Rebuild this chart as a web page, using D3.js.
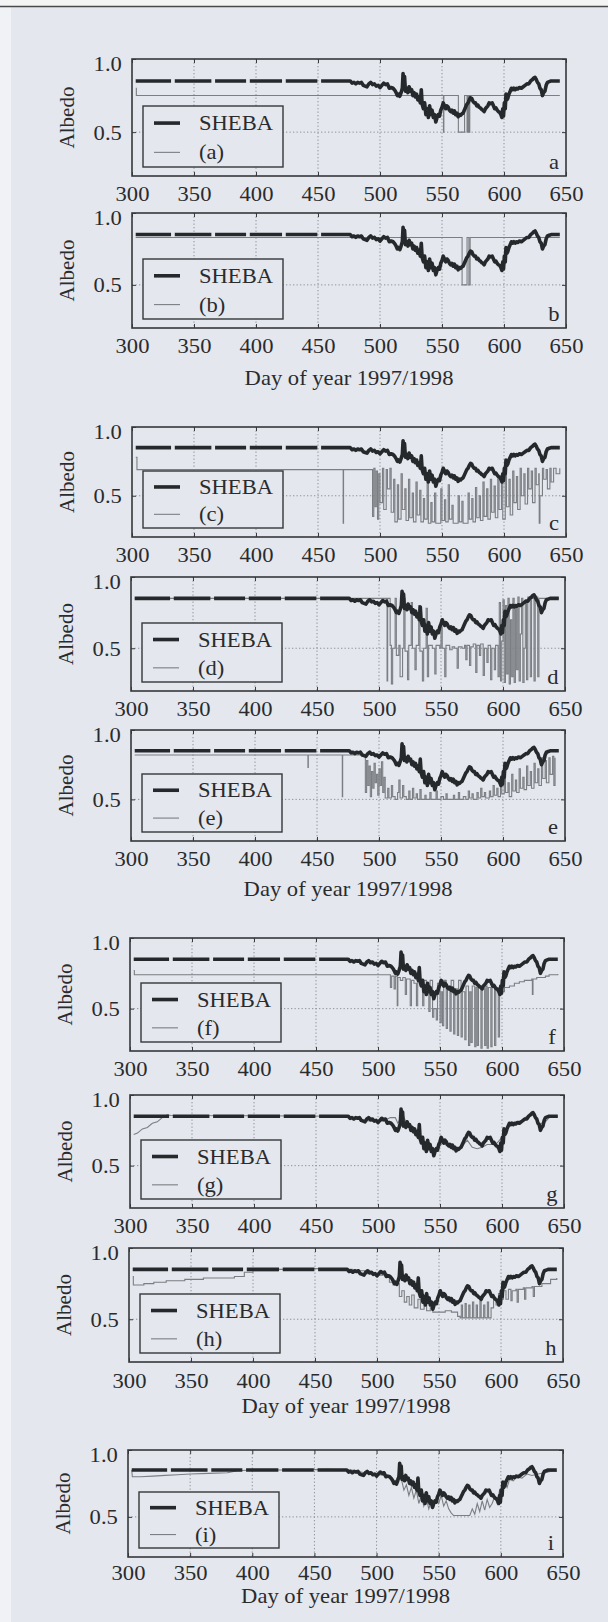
<!DOCTYPE html>
<html>
<head>
<meta charset="utf-8">
<script src="https://cdn.jsdelivr.net/npm/d3@7"></script>
<style>
  body { margin: 0; background: #e4e7ee; }
  svg { display: block; }
  text { font-family: "Liberation Serif", "Times New Roman", serif; fill: #2a2b2d; }
</style>
</head>
<body>
<div id="chart"></div>
<script>
// ---- data (day of year, albedo); null = gap in record ----
const sheba = [
  [303,0.85],[331.5,0.85],null,[334.5,0.85],[364,0.85],null,[367,0.85],[392,0.85],null,
  [395,0.85],[421,0.85],null,[424,0.85],[449.5,0.85],null,[452.5,0.85],[476,0.85],
  [477.5,0.835],[479,0.84],[480.5,0.83],[482,0.84],[483.5,0.835],[485,0.84],[486.5,0.82],[488,0.815],
  [489.5,0.81],[491,0.83],[492.5,0.84],[494,0.825],[495.5,0.83],[497,0.815],[498.5,0.82],[500,0.805],
  [501.5,0.82],[503,0.835],[504.5,0.825],[506,0.83],[507.5,0.80],[509,0.805],[510.5,0.80],[512,0.785],
  [513,0.77],[514,0.75],[515,0.76],[516,0.745],[517,0.77],[518,0.80],[518.6,0.90],[519.2,0.84],
  [519.8,0.88],[520.5,0.78],[521.5,0.80],[522.5,0.77],[523.5,0.81],[524.5,0.78],[525.5,0.79],
  [526.5,0.75],[527.5,0.77],[528.5,0.74],[529.5,0.76],[530.5,0.72],[531.5,0.74],[532.5,0.70],
  [533.3,0.79],[534,0.69],[535,0.66],[536,0.70],[537,0.62],[538,0.66],[539,0.60],[540,0.68],[541,0.62],
  [542,0.65],[543,0.60],[544,0.62],[545,0.57],[546,0.60],[547,0.62],[548,0.61],[549,0.65],[550,0.67],
  [551,0.70],[552,0.68],[553,0.66],[554,0.68],[555,0.67],[556,0.65],[557,0.64],[558,0.65],[559,0.63],
  [560,0.645],[561,0.62],[562,0.63],[563,0.605],[564,0.62],[565,0.615],[566,0.625],[567,0.63],
  [568,0.65],[569,0.67],[570,0.69],[571,0.70],[572,0.72],[573,0.735],[574,0.73],[575,0.71],[576,0.70],
  [577,0.70],[578,0.68],[579,0.685],[580,0.67],[581,0.665],[582,0.655],[583,0.65],[584,0.64],[585,0.66],
  [586,0.67],[587,0.68],[588,0.70],[589,0.695],[590.5,0.70],[591.5,0.68],[592.5,0.66],[593.5,0.665],
  [594.5,0.65],[595.5,0.64],[596.5,0.635],[597.5,0.62],[598.3,0.60],[599,0.66],[599.6,0.61],
  [600.3,0.70],[601,0.66],[601.6,0.76],[602.3,0.72],[603,0.73],[604,0.76],[605,0.78],[606,0.80],
  [607,0.79],[608,0.80],[609,0.79],[610,0.80],[611,0.795],[612.5,0.805],[614,0.80],[615.5,0.81],
  [617,0.82],[618.5,0.83],[620,0.83],[621.5,0.85],[623,0.86],[624,0.87],[625,0.875],[626,0.86],
  [627,0.84],[628,0.83],[629,0.80],[630,0.79],[631,0.75],[632,0.77],[633,0.78],[634,0.82],[635,0.84],
  [636.5,0.845],[638,0.85],[645,0.85]
];

const modelA = [
  [303,0.80],[303.5,0.75],[551,0.75],[551.2,0.5],[551.5,0.75],[563,0.75],[563.2,0.5],[568,0.5],
  [568.2,0.75],[570,0.75],[570.2,0.5],[570.6,0.75],[571,0.5],[571.4,0.75],[572,0.5],[572.4,0.75],[645,0.75]
];
const modelB = [
  [303,0.83],[566,0.83],[566.2,0.5],[570,0.5],[570.2,0.83],[571.5,0.83],[571.7,0.5],[572.5,0.5],[572.7,0.83],[645,0.83]
];
const modelC = [
  [303,0.78],[304,0.69],[470,0.69],[470.3,0.30],[470.6,0.69],[493,0.69],
  [494,0.35],[495,0.70],[496,0.42],[497,0.68],[498,0.33],[499,0.66],[500,0.45],[502,0.70],[503,0.40],
  [505,0.69],[506,0.55],[508,0.70],[509,0.38],[511,0.62],[512,0.31],[514,0.58],[515,0.33],[517,0.66],
  [518,0.40],[520,0.55],[521,0.32],[523,0.62],[524,0.34],[526,0.52],[527,0.31],[529,0.60],[530,0.36],
  [532,0.54],[533,0.31],[535,0.48],[536,0.33],[538,0.62],[539,0.30],[541,0.45],[542,0.31],[544,0.52],
  [545,0.30],[548,0.30],[549,0.55],[550,0.32],[552,0.47],[553,0.31],[555,0.58],[556,0.33],[558,0.43],
  [559,0.30],[562,0.30],[563,0.50],[564,0.31],[566,0.46],[567,0.30],[570,0.30],[571,0.52],[572,0.33],
  [574,0.48],[575,0.31],[577,0.56],[578,0.34],[580,0.50],[581,0.32],[583,0.60],[584,0.35],[586,0.55],
  [587,0.33],[589,0.62],[590,0.38],[592,0.57],[593,0.34],[595,0.64],[596,0.40],[598,0.60],[599,0.33],
  [601,0.66],[602,0.42],[604,0.62],[605,0.36],[607,0.68],[608,0.45],[610,0.64],[611,0.40],[613,0.70],
  [614,0.50],[616,0.66],[617,0.44],[619,0.70],[620,0.55],[622,0.68],[623,0.45],[625,0.70],[626,0.58],
  [628,0.66],[628.4,0.30],[629,0.50],[631,0.70],[632,0.62],[634,0.69],[635,0.55],[637,0.70],[638,0.60],
  [640,0.70],[642,0.66],[645,0.70]
];
const modelD = [
  [303,0.85],[506,0.85],[506.5,0.27],[507,0.85],[509,0.52],[510,0.25],[511,0.50],[513,0.85],[514,0.45],
  [516,0.52],[517,0.30],[519,0.50],[520,0.85],[521,0.48],[523,0.28],[524,0.52],[526,0.82],[527,0.50],
  [529,0.35],[530,0.52],[532,0.80],[533,0.48],[535,0.27],[536,0.50],[538,0.78],[539,0.30],[540,0.52],
  [543,0.50],[545,0.32],[546,0.52],[549,0.50],[550,0.65],[551,0.50],[553,0.30],[554,0.52],[557,0.49],
  [559,0.51],[561,0.50],[563,0.36],[564,0.51],[567,0.50],[569,0.52],[570,0.42],[571,0.52],[573,0.38],
  [574,0.51],[576,0.53],[578,0.33],[579,0.52],[581,0.45],[582,0.53],[584,0.31],[585,0.50],[587,0.40],
  [588,0.52],[590,0.28],[591,0.50],[593,0.35],[594,0.52],[596,0.30],[597,0.82],[598,0.27],[599,0.55],
  [600,0.84],[601,0.26],[602,0.80],[603,0.32],[604,0.85],[605,0.25],[606,0.70],[607,0.30],[608,0.85],
  [609,0.26],[610,0.78],[611,0.35],[612,0.86],[613,0.27],[614,0.60],[615,0.85],[616,0.26],[617,0.50],
  [618,0.84],[619,0.28],[620,0.86],[622,0.30],[623,0.85],[625,0.27],[626,0.86],[628,0.30],[629,0.85],[645,0.85]
];
const modelE = [
  [303,0.82],[442.5,0.82],[442.7,0.73],[443,0.82],[470.2,0.82],[470.4,0.52],[470.7,0.82],[488,0.82],
  [489,0.55],[490,0.78],[491,0.60],[492,0.74],[493,0.52],[494,0.70],[495,0.58],[496,0.76],[497,0.62],
  [498,0.68],[499,0.53],[500,0.72],[501,0.60],[502,0.77],[503,0.55],[504,0.66],[505,0.51],[507,0.58],
  [508,0.51],[510,0.60],[511,0.52],[513,0.50],[515,0.55],[516,0.64],[517,0.51],[519,0.60],[520,0.52],
  [522,0.50],[524,0.56],[525,0.50],[527,0.58],[528,0.51],[530,0.54],[531,0.50],[533,0.57],[534,0.50],
  [537,0.53],[538,0.50],[541,0.55],[542,0.50],[545,0.50],[546,0.56],[547,0.50],[550,0.52],[552,0.50],
  [554,0.54],[555,0.50],[558,0.50],[560,0.53],[561,0.50],[564,0.55],[565,0.50],[568,0.52],[570,0.50],
  [572,0.56],[573,0.51],[575,0.54],[576,0.50],[579,0.55],[580,0.51],[582,0.58],[583,0.52],[585,0.55],
  [586,0.51],[589,0.56],[590,0.52],[592,0.60],[593,0.53],[595,0.58],[596,0.52],[598,0.62],[599,0.54],
  [601,0.66],[602,0.55],[604,0.62],[605,0.52],[607,0.68],[608,0.56],[610,0.64],[611,0.55],[613,0.72],
  [614,0.58],[616,0.66],[617,0.57],[619,0.74],[620,0.60],[622,0.70],[623,0.58],[625,0.76],[626,0.62],
  [628,0.72],[629,0.60],[631,0.80],[632,0.65],[634,0.78],[635,0.62],[637,0.80],[638,0.68],[640,0.81],
  [641,0.60],[642,0.80]
];
const modelF = [
  [303,0.77],[303.5,0.74],[509,0.74],[510,0.65],[511,0.73],[513,0.64],[514,0.73],[515.5,0.52],[516,0.72],
  [518,0.70],[520,0.72],[522,0.60],[523,0.71],[526,0.52],[527,0.70],[529,0.68],[531,0.52],[532,0.70],
  [534,0.66],[536,0.52],[537,0.70],[539,0.64],[541,0.48],[542,0.70],[544,0.44],[545,0.50],[547,0.42],
  [548,0.68],[550,0.40],[551,0.62],[552,0.38],[553,0.70],[555,0.36],[556,0.66],[558,0.34],[559,0.70],
  [561,0.32],[562,0.64],[564,0.31],[565,0.70],[567,0.30],[568,0.62],[570,0.28],[571,0.66],[573,0.24],
  [574,0.62],[575,0.26],[576,0.66],[578,0.23],[579,0.65],[580,0.24],[581,0.66],[583,0.22],[584,0.64],
  [586,0.24],[587,0.66],[588,0.22],[589,0.65],[591,0.23],[592,0.66],[594,0.24],[595,0.65],[597,0.30],
  [598,0.64],[600,0.62],[602,0.65],[606,0.66],[610,0.68],[614,0.69],[618,0.70],[624,0.71],[624.5,0.60],
  [625,0.71],[628,0.72],[632,0.72],[635,0.73],[638,0.74],[645,0.745]
];
const modelG = [
  [303,0.72],[306,0.73],[310,0.76],[314,0.77],[318,0.80],[322,0.81],[326,0.84],[330,0.86],[333,0.855],
  [476,0.85],[480,0.84],[490,0.82],[500,0.81],[505,0.82],[510,0.84],[514,0.84],[516,0.80],[520,0.86],
  [524,0.78],[528,0.74],[532,0.70],[536,0.68],[540,0.64],[544,0.60],[548,0.62],[552,0.66],[556,0.64],
  [560,0.62],[564,0.62],[568,0.64],[572,0.68],[576,0.63],[580,0.62],[584,0.63],[588,0.65],[592,0.65],
  [596,0.66],[600,0.70],[604,0.76],[608,0.80],[612,0.81],[616,0.82],[620,0.85],[625,0.86],[630,0.80],
  [634,0.80],[638,0.84],[645,0.85]
];
const modelH = [
  [303,0.80],[303.5,0.74],[312,0.75],[320,0.76],[330,0.77],[345,0.78],[360,0.79],[375,0.79],[385,0.80],
  [393,0.83],[400,0.84],[420,0.85],[445,0.855],[470,0.85],[480,0.84],[490,0.82],[500,0.81],[505,0.82],
  [508,0.81],[510,0.76],[513,0.74],[516,0.75],[518,0.66],[520,0.70],[522,0.62],[524,0.66],[526,0.60],
  [528,0.67],[530,0.58],[533,0.64],[535,0.57],[538,0.62],[540,0.56],[543,0.58],[545,0.55],[550,0.55],
  [555,0.56],[560,0.55],[565,0.52],[567,0.51],[568,0.60],[569,0.51],[571,0.61],[572,0.51],[574,0.60],
  [575,0.51],[577,0.62],[578,0.51],[580,0.60],[581,0.51],[583,0.63],[584,0.51],[586,0.60],[587,0.51],
  [589,0.62],[590,0.51],[592,0.58],[594,0.64],[596,0.60],[598,0.68],[600,0.64],[602,0.70],[604,0.64],
  [606,0.71],[608,0.63],[609,0.70],[612,0.71],[613,0.62],[614,0.71],[618,0.72],[619,0.64],[620,0.72],
  [625,0.73],[626,0.66],[627,0.73],[633,0.75],[640,0.78],[645,0.79]
];
const modelI = [
  [303,0.85],[303.5,0.80],[310,0.80],[320,0.805],[330,0.81],[340,0.815],[350,0.82],[365,0.825],
  [380,0.83],[388,0.845],[400,0.85],[430,0.85],[460,0.855],[480,0.85],[490,0.83],[500,0.82],[510,0.80],
  [515,0.76],[518,0.82],[520,0.78],[522,0.70],[524,0.74],[526,0.66],[528,0.72],[530,0.64],[532,0.70],
  [534,0.60],[536,0.66],[538,0.58],[540,0.64],[542,0.56],[544,0.62],[546,0.58],[548,0.64],[550,0.60],
  [552,0.66],[554,0.58],[556,0.62],[558,0.56],[560,0.53],[562,0.51],[570,0.51],[575,0.51],[577,0.56],
  [579,0.52],[581,0.60],[583,0.54],[585,0.62],[587,0.55],[589,0.63],[591,0.57],[593,0.60],[595,0.65],
  [597,0.60],[599,0.70],[601,0.66],[603,0.76],[605,0.72],[607,0.78],[610,0.77],[613,0.80],[617,0.79],
  [621,0.82],[625,0.81],[630,0.82],[635,0.83],[640,0.84],[645,0.84]
];

const models = [modelA, modelB, modelC, modelD, modelE, modelF, modelG, modelH, modelI];
const panelLetters = ["a", "b", "c", "d", "e", "f", "g", "h", "i"];
const legendLabels = ["(a)", "(b)", "(c)", "(d)", "(e)", "(f)", "(g)", "(h)", "(i)"];
const xTicks = [300, 350, 400, 450, 500, 550, 600, 650];
const yTicks = [0.5, 1.0];
const xTitle = "Day of year 1997/1998";
const yTitle = "Albedo";
const seriesName = "SHEBA";

// ---- layout of the scanned page (pixels) ----
const W = 608, H = 1622;
const frames = [
  {top: 59,   bottom: 176,  left: 132, right: 566, tick: 25, xlabel: null, step: true},
  {top: 213,  bottom: 328,  left: 132, right: 566, tick: 25, xlabel: 385,  step: true},
  {top: 427,  bottom: 537,  left: 132, right: 566, tick: 25, xlabel: null, step: true},
  {top: 577,  bottom: 691,  left: 131, right: 565, tick: 25, xlabel: null, step: true},
  {top: 730,  bottom: 841,  left: 131, right: 565, tick: 25, xlabel: 896,  step: true},
  {top: 938,  bottom: 1051, left: 130, right: 564, tick: 25, xlabel: null, step: true},
  {top: 1095, bottom: 1208, left: 130, right: 564, tick: 25, xlabel: null, step: false},
  {top: 1248, bottom: 1362, left: 129, right: 563, tick: 26, xlabel: 1413, step: true},
  {top: 1450, bottom: 1557, left: 128, right: 563, tick: 23, xlabel: 1603, step: false}
];
const stretch = "scale(1.13,1)";

const svg = d3.select("#chart").append("svg")
    .attr("width", W)
    .attr("height", H)
    .attr("viewBox", [0, 0, W, H]);

// page background, scan edges
svg.append("rect").attr("width", W).attr("height", H).attr("fill", "#e4e7ee");
svg.append("rect").attr("width", 11).attr("height", H).attr("fill", "#f1f2f5");
svg.append("rect").attr("width", W).attr("height", 6).attr("fill", "#f4f4f4");
svg.append("line").attr("x1", 0).attr("x2", W).attr("y1", 6.5).attr("y2", 6.5)
    .attr("stroke", "#4a4a4a").attr("stroke-width", 1.6);

frames.forEach((f, i) => {
  const x = d3.scaleLinear().domain([300, 650]).range([f.left, f.right]);
  const y = d3.scaleLinear().domain([0.2, 1.0]).range([f.bottom, f.top]);
  const g = svg.append("g");
  const ph = f.bottom - f.top;

  g.append("clipPath").attr("id", "clip" + i)
    .append("rect").attr("x", f.left).attr("y", f.top)
    .attr("width", f.right - f.left).attr("height", ph);

  // dotted grid
  g.append("g").selectAll("line").data(xTicks.slice(1, -1)).join("line")
      .attr("x1", d => x(d)).attr("x2", d => x(d))
      .attr("y1", f.top).attr("y2", f.bottom)
      .attr("stroke", "#85888d").attr("stroke-width", 0.9).attr("stroke-dasharray", "1.3,2.2");
  g.append("line")
      .attr("x1", f.left).attr("x2", f.right).attr("y1", y(0.5)).attr("y2", y(0.5))
      .attr("stroke", "#85888d").attr("stroke-width", 0.9).attr("stroke-dasharray", "1.3,2.2");

  // series
  const line = d3.line().defined(d => d !== null).x(d => x(d[0])).y(d => y(d[1]));
  const modelLine = d3.line().x(d => x(d[0])).y(d => y(d[1]))
      .curve(f.step ? d3.curveStepAfter : d3.curveLinear);
  const plot = g.append("g").attr("clip-path", `url(#clip${i})`);
  plot.append("path").datum(models[i]).attr("d", modelLine)
      .attr("fill", "none").attr("stroke", "#7b7e82").attr("stroke-width", 1.1);
  plot.append("path").datum(sheba).attr("d", line)
      .attr("fill", "none").attr("stroke", "#25292b").attr("stroke-width", 3.6)
      .attr("stroke-linejoin", "round");

  // axes: inward ticks on all sides
  const xb = g.append("g").attr("transform", `translate(0,${f.bottom})`)
      .call(d3.axisBottom(x).tickValues(xTicks).tickSize(-4).tickPadding(0).tickFormat(d3.format("d")));
  xb.select(".domain").remove();
  xb.selectAll("line").attr("stroke", "#3a3c3e");
  xb.selectAll("text").attr("y", f.tick).attr("dy", 0).attr("transform", stretch)
      .style("font-size", "20px").attr("fill", "#2a2b2d");

  const xt = g.append("g").attr("transform", `translate(0,${f.top})`)
      .call(d3.axisTop(x).tickValues(xTicks).tickSize(-4).tickFormat(""));
  xt.select(".domain").remove();
  xt.selectAll("line").attr("stroke", "#3a3c3e");

  const yl = g.append("g").attr("transform", `translate(${f.left},0)`)
      .call(d3.axisLeft(y).tickValues(yTicks).tickSize(-4).tickPadding(0).tickFormat(d3.format(".1f")));
  yl.select(".domain").remove();
  yl.selectAll("line").attr("stroke", "#3a3c3e");
  yl.selectAll("text").attr("x", -9).attr("dy", (d) => d === 1.0 ? "0.55em" : "0.35em")
      .attr("transform", stretch).style("font-size", "20px").attr("fill", "#2a2b2d");

  const yr = g.append("g").attr("transform", `translate(${f.right},0)`)
      .call(d3.axisRight(y).tickValues(yTicks).tickSize(-4).tickFormat(""));
  yr.select(".domain").remove();
  yr.selectAll("line").attr("stroke", "#3a3c3e");

  // frame
  g.append("rect").attr("x", f.left).attr("y", f.top)
      .attr("width", f.right - f.left).attr("height", ph)
      .attr("fill", "none").attr("stroke", "#36383a").attr("stroke-width", 1.6);

  // legend
  const lh = Math.round(ph * 0.52);
  const lx = f.left + 11, ly = f.bottom - 9 - lh;
  const leg = g.append("g").attr("transform", `translate(${lx},${ly})`);
  leg.append("rect").attr("width", 140).attr("height", lh)
      .attr("fill", "#e4e7ee").attr("stroke", "#36383a").attr("stroke-width", 1.4);
  const entries = [
    {label: seriesName, color: "#25292b", width: 3.6, yy: lh * 0.28},
    {label: legendLabels[i], color: "#7b7e82", width: 1.1, yy: lh * 0.76}
  ];
  entries.forEach(e => {
    leg.append("line").attr("x1", 11).attr("x2", 37).attr("y1", e.yy).attr("y2", e.yy)
        .attr("stroke", e.color).attr("stroke-width", e.width);
    leg.append("text").attr("transform", `translate(56,${e.yy}) ${stretch}`)
        .attr("dy", "0.35em").style("font-size", "20px").text(e.label);
  });

  // panel letter
  g.append("text").attr("transform", `translate(${f.right - 12},${f.bottom - 7}) ${stretch}`)
      .attr("text-anchor", "middle").style("font-size", "20px").text(panelLetters[i]);

  // y title
  g.append("text").attr("transform", `translate(${f.left - 58},${(f.top + f.bottom) / 2}) rotate(-90)`)
      .attr("text-anchor", "middle").style("font-size", "21px").text(yTitle);

  // x title
  if (f.xlabel) {
    g.append("text").attr("transform", `translate(${(f.left + f.right) / 2},${f.xlabel}) ${stretch}`)
        .attr("text-anchor", "middle").style("font-size", "20px").text(xTitle);
  }
});
</script>
</body>
</html>
